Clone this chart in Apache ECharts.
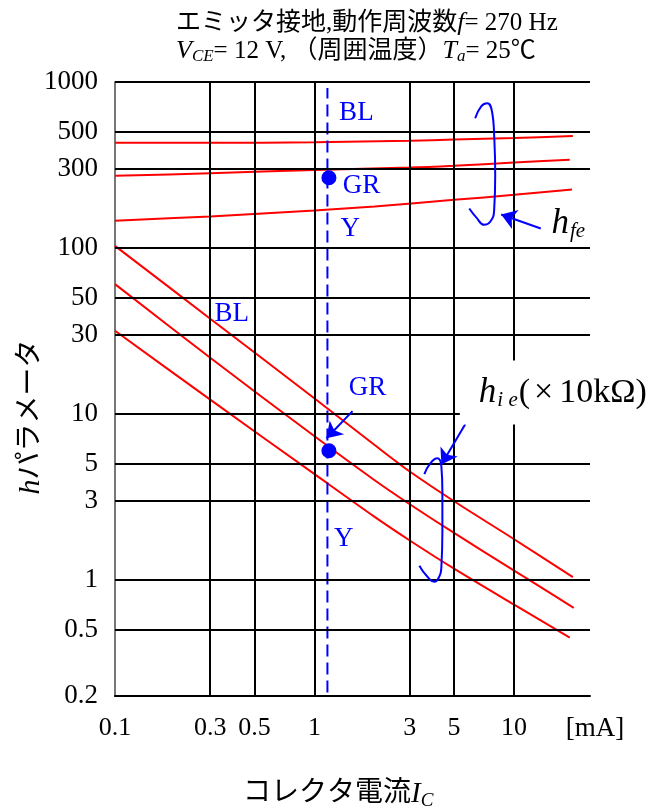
<!DOCTYPE html>
<html>
<head>
<meta charset="utf-8">
<title>hパラメータ - コレクタ電流</title>
<script src="https://cdn.jsdelivr.net/npm/echarts@6/dist/echarts.min.js"></script>
<style>html,body{margin:0;padding:0;background:#fff;}</style>
</head>
<body>
<div id="main" style="width:656px;height:812px;"></div>
<script type="text/javascript">
// 軸の目盛
var xTicks = [0.1, 0.3, 0.5, 1, 3, 5, 10];
var yTicks = [0.2, 0.5, 1, 3, 5, 10, 30, 50, 100, 300, 500, 1000];
var xMax = 24;
var xUnit = '[mA]';

// hfe (BL, GR, Y)
var hfeBL = [[0.1, 430], [0.3, 430], [1, 433], [3, 443], [5, 450], [10, 460], [19.7, 472]];
var hfeGR = [[0.1, 272], [0.3, 282], [1, 295], [3, 305], [5, 313], [10, 327], [19, 340]];
var hfeY  = [[0.1, 146], [0.3, 155], [1, 168], [2, 178], [5, 195], [10, 209], [19.5, 225]];

// hie (x10kΩ)
var hieBL = [[0.1, 103], [0.3, 37.5], [1, 12.4], [2, 6.5], [3, 4.5], [5, 2.98], [10, 1.76], [19.7, 1.04]];
var hieGR = [[0.1, 60.6], [0.3, 21.8], [1, 7.34], [2, 3.99], [3, 2.86], [5, 1.92], [10, 1.14], [19.9, 0.68]];
var hieY  = [[0.1, 31.7], [0.3, 12.2], [1, 4.34], [2, 2.4], [3, 1.73], [5, 1.17], [10, 0.71], [19, 0.45]];

// 動作点
var opLine = [[1.16, 0.21], [1.16, 920]];
var opDots = [[1.18, 265], [1.18, 6.0]];

// ランク表示
var gradeNames = ['BL', 'GR', 'Y', 'BL', 'GR', 'Y'];
var gradePos = [[1.62, 648], [1.72, 235], [1.51, 131], [0.385, 40.2], [1.84, 14.3], [1.40, 1.78]];

// 括弧と矢印
var hfeBrace = [[6.38, 604], [6.84, 714], [7.33, 745], [7.76, 657], [7.94, 478], [8.04, 274], [7.94, 168], [7.59, 144], [7.08, 138], [6.46, 153], [5.96, 173]];
var hieBrace = [[3.55, 4.34], [3.80, 5.04], [4.12, 5.41], [4.32, 4.84], [4.37, 3.42], [4.37, 1.96], [4.32, 1.20], [4.17, 1.02], [3.98, 0.977], [3.67, 1.05], [3.35, 1.22]];
var arrows = [
    [[13.6, 131], [8.61, 159]],
    [[5.69, 8.68], [4.32, 4.97]],
    [[1.55, 10.4], [1.148, 7.14]]
];
var hfeLabelPos = [18.8, 140];
var hieLabelPos = [15.9, 13.45];

var SERIF = "'Liberation Serif', 'Noto Sans CJK JP', serif";
var RED = '#ff0000';
var BLUE = '#0000ff';
var INK = '#000';

function fmtX(v) {
    if (v >= xMax * 0.99) return '{u|' + xUnit + '}';
    return String(parseFloat((+v).toPrecision(3)));
}
function fmtY(v) {
    return String(parseFloat((+v).toPrecision(3)));
}

var chart = echarts.init(document.getElementById('main'));

var gridLines = [];
for (var i = 1; i < xTicks.length; i++) gridLines.push({xAxis: xTicks[i]});
for (var j = 1; j < yTicks.length; j++) gridLines.push({yAxis: yTicks[j]});

function redLine(d) {
    return {
        type: 'line', data: d, smooth: 0.3, showSymbol: false, z: 3, silent: true,
        lineStyle: {color: RED, width: 2}
    };
}

var noBorder = {textBorderWidth: 0, textBorderColor: 'transparent', textShadowBlur: 0};

var option = {
    animation: false,
    backgroundColor: '#fff',
    title: [{
        text: 'エミッタ接地,動作周波数{i|f}= 270 Hz\n{i|V}{s|CE}= 12 V, （周囲温度）{i|T}{s|a}= 25℃',
        left: 171,
        top: 4,
        textStyle: {
            fontFamily: SERIF, fontSize: 25, fontWeight: 'normal', color: INK, lineHeight: 28,
            rich: {
                i: {fontFamily: SERIF, fontSize: 26, fontStyle: 'italic', color: INK},
                s: {fontFamily: SERIF, fontSize: 17, fontStyle: 'italic', color: INK, padding: [12, 0, 0, 0]}
            }
        }
    }, {
        text: 'コレクタ電流{i|I}{s|C}',
        left: 238,
        top: 773,
        textStyle: {
            fontFamily: SERIF, fontSize: 28, fontWeight: 'normal', color: INK,
            rich: {
                i: {fontFamily: SERIF, fontSize: 29, fontStyle: 'italic', color: INK},
                s: {fontFamily: SERIF, fontSize: 19, fontStyle: 'italic', color: INK, padding: [13, 0, 0, 0]}
            }
        }
    }],
    grid: {left: 115, right: 66, top: 82, bottom: 116, containLabel: false, outerBoundsMode: 'none'},
    xAxis: {
        type: 'log', logBase: 10, min: 0.1, max: xMax,
        axisLine: {show: true, onZero: false, lineStyle: {color: INK, width: 2}},
        axisTick: {show: false},
        splitLine: {show: false},
        minorTick: {show: false},
        axisLabel: {
            customValues: xTicks.concat([xMax]), formatter: fmtX, margin: 19,
            fontFamily: SERIF, fontSize: 26, color: INK,
            rich: {u: {fontFamily: SERIF, fontSize: 27, color: INK, padding: [0, 0, 0, 10]}}
        }
    },
    yAxis: {
        type: 'log', logBase: 10, min: 0.2, max: 1000,
        name: '{h|h}パラメータ', nameLocation: 'middle', nameRotate: 90, nameGap: 84,
        nameMoveOverlap: false,
        nameTextStyle: {
            fontFamily: SERIF, fontSize: 28, color: INK, verticalAlign: 'middle', padding: [0, 56, 0, 0],
            rich: {h: {fontFamily: SERIF, fontSize: 30, fontStyle: 'italic', color: INK}}
        },
        axisLine: {show: true, onZero: false, lineStyle: {color: '#777', width: 2}},
        axisTick: {show: false},
        splitLine: {show: false},
        minorTick: {show: false},
        axisLabel: {
            customValues: yTicks, formatter: fmtY, margin: 17,
            fontFamily: SERIF, fontSize: 27, color: INK
        }
    },
    series: [
        {
            type: 'line', data: [[0.1, 0.2]], showSymbol: false, z: 1, silent: true,
            lineStyle: {width: 0},
            markLine: {
                silent: true, symbol: 'none', animation: false,
                label: {show: false},
                lineStyle: {color: INK, width: 2, type: 'solid'},
                data: gridLines
            }
        },
        redLine(hfeBL), redLine(hfeGR), redLine(hfeY),
        redLine(hieBL), redLine(hieGR), redLine(hieY),
        {
            type: 'line', data: opLine, showSymbol: false, z: 4, silent: true,
            lineStyle: {color: BLUE, width: 2, type: [12, 6]}
        },
        {
            type: 'scatter', data: opDots, symbolSize: 15, z: 5, silent: true,
            itemStyle: {color: BLUE, opacity: 1}
        },
        {
            type: 'line', data: hfeBrace, smooth: 0.5, showSymbol: false, z: 5, silent: true,
            lineStyle: {color: BLUE, width: 2}
        },
        {
            type: 'line', data: hieBrace, smooth: 0.5, showSymbol: false, z: 5, silent: true,
            lineStyle: {color: BLUE, width: 2},
            markLine: {
                silent: true, animation: false,
                symbol: ['none', 'arrow'], symbolSize: 15,
                label: {show: false},
                lineStyle: {color: BLUE, width: 2, type: 'solid'},
                data: arrows.map(function (a) { return [{coord: a[0]}, {coord: a[1]}]; })
            }
        },
        {
            type: 'scatter', symbolSize: 0, z: 6, silent: true,
            itemStyle: {color: BLUE, opacity: 1},
            data: gradePos.map(function (p, k) { return {name: gradeNames[k], value: p}; }),
            label: Object.assign({
                show: true, position: 'inside', formatter: '{b}',
                fontFamily: SERIF, fontSize: 27, color: BLUE
            }, noBorder)
        },
        {
            type: 'scatter', symbolSize: 0, z: 10, silent: true,
            itemStyle: {color: INK, opacity: 1},
            data: [
                {value: hfeLabelPos, label: {formatter: '{h|h}{s|fe}'}},
                {value: hieLabelPos, label: {formatter: '{h|h}{s|i e}{t|(}{x|×}{t|10kΩ)}', backgroundColor: '#fff', padding: [14, 2, 14, 19]}}
            ],
            label: Object.assign({
                show: true, position: 'inside', color: INK,
                rich: {
                    h: Object.assign({fontFamily: SERIF, fontSize: 35, fontStyle: 'italic', color: INK}, noBorder),
                    s: Object.assign({fontFamily: SERIF, fontSize: 21, fontStyle: 'italic', color: INK, padding: [15, 1, 0, 1]}, noBorder),
                    t: Object.assign({fontFamily: SERIF, fontSize: 34, color: INK}, noBorder),
                    x: Object.assign({fontFamily: SERIF, fontSize: 34, color: INK, padding: [0, 6, 0, 4]}, noBorder)
                }
            }, noBorder)
        }
    ]
};

chart.setOption(option);
</script>
</body>
</html>
